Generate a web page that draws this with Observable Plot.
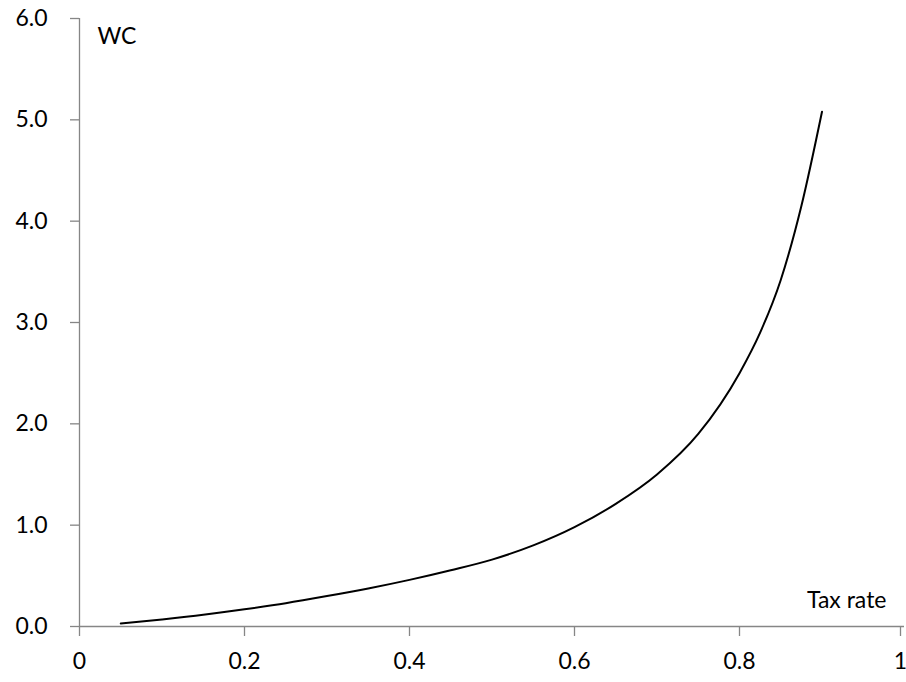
<!DOCTYPE html>
<html>
<head>
<meta charset="utf-8">
<script src="https://cdn.jsdelivr.net/npm/d3@7"></script>
<script src="https://cdn.jsdelivr.net/npm/@observablehq/plot@0.6"></script>
<style>
  html, body { margin: 0; padding: 0; background: #fff; }
  #chart svg { display: block; }
</style>
</head>
<body>
<div id="chart"></div>
<script>
const taxRate = [0.05, 0.1, 0.15, 0.2, 0.25, 0.3, 0.35, 0.4, 0.45, 0.5, 0.55, 0.6, 0.65, 0.7, 0.75, 0.8, 0.825, 0.85, 0.875, 0.9];
const wc      = [0.03, 0.07, 0.115, 0.17, 0.23, 0.30, 0.375, 0.46, 0.555, 0.66, 0.80, 0.98, 1.21, 1.50, 1.90, 2.50, 2.90, 3.42, 4.15, 5.08];
const xTicks = [0, 0.2, 0.4, 0.6, 0.8, 1];
const yTicks = [0, 1, 2, 3, 4, 5, 6];
const xLabel = "Tax rate";
const yLabel = "WC";

const data = taxRate.map((t, i) => ({t, w: wc[i]}));
const axisColor = "#868686";
const font = "Lato, 'Open Sans', sans-serif";
const fs = 23;

const chart = Plot.plot({
  width: 906,
  height: 682,
  marginLeft: 79,
  marginRight: 2,
  marginTop: 18,
  marginBottom: 56,
  style: {fontFamily: font, fontSize: fs + "px", color: "#000", background: "#fff"},
  x: {domain: [0, 1]},
  y: {domain: [0, 6]},
  marks: [
    Plot.ruleX([0], {stroke: axisColor, strokeWidth: 1.3}),
    Plot.ruleY([0], {stroke: axisColor, strokeWidth: 1.3}),
    Plot.axisY(yTicks, {
      tickSize: 9, tickPadding: 23, stroke: axisColor, strokeWidth: 1.3,
      tickFormat: d3.format(".1f"), label: null, fill: "#000", fontSize: fs
    }),
    Plot.axisX(xTicks.slice(0, -1), {
      tickSize: 10, tickPadding: 16, stroke: axisColor, strokeWidth: 1.3,
      tickFormat: d => d3.format("")(d), label: null, fill: "#000", fontSize: fs
    }),
    Plot.axisX(xTicks.slice(-1), {
      tickSize: 10, tickPadding: 16, stroke: axisColor, strokeWidth: 1.3,
      tickFormat: d => d3.format("")(d), label: null, fill: "#000", fontSize: fs, dx: -4
    }),
    Plot.line(data, {x: "t", y: "w", stroke: "#000", strokeWidth: 2, curve: "monotone-x"}),
    Plot.text([yLabel], {frameAnchor: "top-left", dx: 18, dy: 18, textAnchor: "start", lineAnchor: "middle", fill: "#000", fontSize: fs}),
    Plot.text([xLabel], {frameAnchor: "bottom-right", dx: -18, dy: -26, textAnchor: "end", lineAnchor: "middle", fill: "#000", fontSize: fs})
  ]
});
document.getElementById("chart").appendChild(chart);
</script>
</body>
</html>
